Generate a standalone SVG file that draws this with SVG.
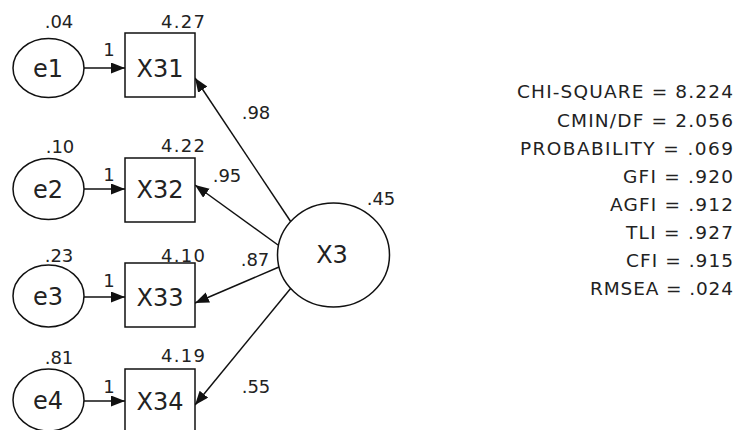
<svg xmlns="http://www.w3.org/2000/svg" width="737" height="430" viewBox="0 0 737 430">
  <defs>
    <marker id="arrow" markerUnits="userSpaceOnUse" markerWidth="15" markerHeight="12" refX="14" refY="5.5" orient="auto">
      <path d="M0,0 L14,5.5 L0,11 z" fill="#111"/>
    </marker>
    <style>
      .shape { fill: #fff; stroke: #111; stroke-width: 1.5; }
      .edge { stroke: #111; stroke-width: 1.5; fill: none; marker-end: url(#arrow); }
      .name { font-family: "DejaVu Sans", Verdana, sans-serif; font-size: 24px; fill: #222; text-anchor: middle; }
      .num { font-family: "DejaVu Sans", Verdana, sans-serif; font-size: 18px; fill: #222; text-anchor: middle; }
      .fit { font-family: "DejaVu Sans", Verdana, sans-serif; font-size: 18.5px; fill: #222; text-anchor: end; }
    </style>
  </defs>
  <rect width="737" height="430" fill="#fff"/>

  <!-- connectors -->
  <g id="connectors">
    <line class="edge" x1="84" y1="68" x2="125" y2="68"/>
    <line class="edge" x1="84" y1="189" x2="125" y2="189"/>
    <line class="edge" x1="84" y1="297" x2="125" y2="297"/>
    <line class="edge" x1="84" y1="401" x2="125" y2="401"/>
    <line class="edge" x1="291" y1="222" x2="195" y2="78"/>
    <line class="edge" x1="278" y1="245" x2="195" y2="185"/>
    <line class="edge" x1="279" y1="267" x2="195" y2="303"/>
    <line class="edge" x1="291" y1="288" x2="195" y2="405"/>
    <text class="num" x="109" y="56">1</text>
    <text class="num" x="109" y="181">1</text>
    <text class="num" x="109" y="287">1</text>
    <text class="num" x="109" y="393">1</text>
    <text class="num" x="256" y="119">.98</text>
    <text class="num" x="227" y="182">.95</text>
    <text class="num" x="255" y="266">.87</text>
    <text class="num" x="256" y="393">.55</text>
  </g>

  <!-- error terms -->
  <g id="e1">
    <ellipse class="shape" cx="48.5" cy="68" rx="35.5" ry="29.5"/>
    <text class="name" x="48" y="77">e1</text>
    <text class="num" x="59" y="28">.04</text>
  </g>
  <g id="e2">
    <ellipse class="shape" cx="48.5" cy="189" rx="35.5" ry="30.5"/>
    <text class="name" x="48" y="198">e2</text>
    <text class="num" x="60" y="153">.10</text>
  </g>
  <g id="e3">
    <ellipse class="shape" cx="48.5" cy="296" rx="35.5" ry="31"/>
    <text class="name" x="48" y="305">e3</text>
    <text class="num" x="59" y="262">.23</text>
  </g>
  <g id="e4">
    <ellipse class="shape" cx="48.5" cy="400" rx="35.5" ry="31"/>
    <text class="name" x="48" y="409">e4</text>
    <text class="num" x="59" y="364">.81</text>
  </g>

  <!-- observed indicators -->
  <g id="X31">
    <rect class="shape" x="125" y="33" width="70" height="64"/>
    <text class="name" x="160" y="77">X31</text>
    <text class="num" x="183" y="28" textLength="44" lengthAdjust="spacing">4.27</text>
  </g>
  <g id="X32">
    <rect class="shape" x="125" y="158" width="70" height="64"/>
    <text class="name" x="160" y="198">X32</text>
    <text class="num" x="183" y="152" textLength="44" lengthAdjust="spacing">4.22</text>
  </g>
  <g id="X33">
    <rect class="shape" x="125" y="263" width="70" height="64"/>
    <text class="name" x="160" y="306">X33</text>
    <text class="num" x="183" y="262" textLength="44" lengthAdjust="spacing">4.10</text>
  </g>
  <g id="X34">
    <rect class="shape" x="125" y="369" width="70" height="64"/>
    <text class="name" x="160" y="410">X34</text>
    <text class="num" x="183" y="362" textLength="44" lengthAdjust="spacing">4.19</text>
  </g>

  <!-- latent factor -->
  <g id="X3">
    <ellipse class="shape" cx="333.5" cy="255" rx="56" ry="52"/>
    <text class="name" x="332" y="263">X3</text>
    <text class="num" x="381" y="205">.45</text>
  </g>

  <!-- model fit summary -->
  <g id="fit">
    <text class="fit" x="733" y="98" textLength="216" lengthAdjust="spacing">CHI-SQUARE = 8.224</text>
    <text class="fit" x="733" y="126.5" textLength="176" lengthAdjust="spacing">CMIN/DF = 2.056</text>
    <text class="fit" x="733" y="154.5" textLength="213" lengthAdjust="spacing">PROBABILITY = .069</text>
    <text class="fit" x="733" y="182.5" textLength="110" lengthAdjust="spacing">GFI = .920</text>
    <text class="fit" x="733" y="210.5" textLength="123" lengthAdjust="spacing">AGFI = .912</text>
    <text class="fit" x="733" y="238.5" textLength="107" lengthAdjust="spacing">TLI = .927</text>
    <text class="fit" x="733" y="267" textLength="107" lengthAdjust="spacing">CFI = .915</text>
    <text class="fit" x="733" y="295" textLength="143" lengthAdjust="spacing">RMSEA = .024</text>
  </g>
</svg>
